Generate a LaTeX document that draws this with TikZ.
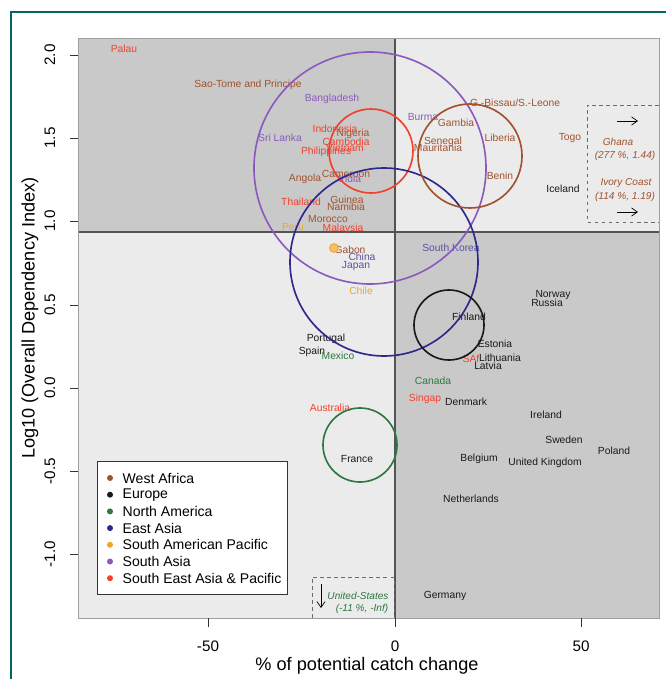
\documentclass[tikz,border=0pt]{standalone}
\usepackage{fontspec}
\setmainfont{Liberation Sans}
\usetikzlibrary{arrows.meta}
\definecolor{wafr}{RGB}{160,82,45}
\definecolor{eur}{RGB}{25,25,25}
\definecolor{namer}{RGB}{45,120,65}
\definecolor{easia}{RGB}{45,40,140}
\definecolor{sapac}{RGB}{240,165,40}
\definecolor{sasia}{RGB}{140,90,190}
\definecolor{seasia}{RGB}{240,65,45}
\definecolor{qdark}{RGB}{201,201,201}
\definecolor{qlight}{RGB}{235,235,235}
\definecolor{frame}{RGB}{0,105,95}

\begin{document}
\begin{tikzpicture}[x=0.03cm, y=-0.03cm, line width=0.40mm,
  cty/.style={font=\fontsize{8.8}{10}\selectfont, inner sep=0pt},
  note/.style={font=\fontsize{8.6}{10}\selectfont\itshape, inner sep=0pt},
  ring/.style={line width=1.4pt},
  ticklab/.style={font=\fontsize{13}{15}\selectfont, inner sep=0pt},
  axtitle/.style={font=\fontsize{15.5}{18}\selectfont, inner sep=0pt},
  arr/.style={line width=0.6pt, -{Straight Barb[length=5pt,width=7pt]}},
  boxline/.style={dashed, line width=0.8pt, gray!85!black}]
  \useasboundingbox (0,0) rectangle (666,679);
  % Outer frame
  \draw[frame, line width=1.3pt] (11,679) -- (11,12) -- (666,12);
  % Quadrants
  \fill[qdark] (78,38) rectangle (395,232);
  \fill[qlight] (395,38) rectangle (659,232);
  \fill[qlight] (78,232) rectangle (395,618);
  \fill[qdark] (395,232) rectangle (659,618);
  \draw[gray!65!black, line width=1pt] (395,38) -- (395,618);
  \draw[gray!65!black, line width=1pt] (78,232) -- (659,232);
  \draw[gray!75, line width=0.8pt] (78,38) rectangle (659,618);
  % Axes ticks and labels
  \foreach \n/\v/\py in {a/2.0/55, b/1.5/138, c/1.0/221, d/0.5/305, e/0.0/388, f/-0.5/471, g/-1.0/554} {
    \draw[gray!40!black, line width=0.8pt] (70,\py) -- (78,\py);
    \node[ticklab, rotate=90] (y\n) at (50,\py) {\v};
  }
  \foreach \n/\v/\px in {a/-50/208, b/0/395, c/50/581} {
    \draw[gray!40!black, line width=0.8pt] (\px,618) -- (\px,627);
    \node[ticklab] (x\n) at (\px,646) {\v};
  }
  \node[axtitle] (xtitle) at (367,666) {\% of potential catch change};
  \node[axtitle, rotate=90] (ytitle) at (30,318) {Log10 (Overall Dependency Index)};
  % West Africa
  \foreach \n/\px/\py/\t in {sao/248/85/Sao-Tome and Principe, nga/353/134/Nigeria,
    ago/305/179/Angola, cmr/346/174/Cameroon, gin/347/200/Guinea, nam/346/207/Namibia,
    mar/328/219/Morocco, gab/350/250/Gabon, gbs/515/103/{G.-Bissau/S.-Leone},
    gmb/456/123/Gambia, sen/443/142/Senegal, mrt/438/148/Mauritania,
    lbr/500/138/Liberia, ben/500/176/Benin, tgo/570/138/Togo}
    \node[cty, text=wafr] (\n) at (\px,\py) {\t};
  % Europe
  \foreach \n/\px/\py/\t in {isl/563/189/Iceland, nor/553/295/Norway, rus/547/303/Russia,
    fin/469/317/Finland, prt/326/339/Portugal, esp/312/352/Spain, est/495/344/Estonia,
    ltu/500/358/Lithuania, lva/488/366/Latvia, dnk/466/402/Denmark, irl/546/415/Ireland,
    swe/564/440/Sweden, pol/614/451/Poland, bel/479/459/Belgium,
    gbr/545/463/United Kingdom, nld/471/499/Netherlands, deu/445/596/Germany,
    fra/357/459/France}
    \node[cty, text=eur] (\n) at (\px,\py) {\t};
  % North America
  \node[cty, text=namer] (mex) at (338,356) {Mexico};
  \node[cty, text=namer] (can) at (433,381) {Canada};
  % East Asia
  \node[cty, text=easia!80] (chn) at (362,257) {China};
  \node[cty, text=easia!80] (jpn) at (356,266) {Japan};
  \node[cty, text=easia!80] (kor) at (451,248) {South Korea};
  % South American Pacific
  \draw[sapac, fill=sapac!70, line width=0.8pt] (334,248) circle (0.13cm);
  \node[cty, text=sapac] (per) at (293,227) {Peru};
  \node[cty, text=sapac] (chl) at (361,291) {Chile};
  % South Asia
  \foreach \n/\px/\py/\t in {bgd/332/99/Bangladesh, lka/280/138/Sri Lanka,
    ind/350/179/India, mmr/423/117/Burma}
    \node[cty, text=sasia] (\n) at (\px,\py) {\t};
  % South East Asia and Pacific
  \foreach \n/\px/\py/\t in {plw/124/49/Palau, idn/335/129/Indonesia, khm/346/142/Cambodia,
    phl/326/152/Philippines, vnm/345/148/Vietnam, tha/301/202/Thailand,
    mys/343/229/Malaysia, sgp/425/399/Singap, aus/330/408/Australia, saf/471/359/SAf}
    \node[cty, text=seasia] (\n) at (\px,\py) {\t};
  % Regional circles
  \draw[ring, sasia] (370,168) circle (3.48cm);
  \draw[ring, seasia] (371,151) circle (1.26cm);
  \draw[ring, easia] (384,262) circle (2.82cm);
  \draw[ring, wafr] (470,156) circle (1.56cm);
  \draw[ring, eur] (449,325) circle (1.05cm);
  \draw[ring, namer] (360,445) circle (1.11cm);
  % Off-scale countries
  \draw[boxline] (659,105) -- (587,105) -- (587,222) -- (659,222);
  \coordinate (ghA) at (617,121);
  \coordinate (ghB) at (638,121);
  \draw[arr] (ghA) -- (ghB);
  \node[note, text=wafr] (gha) at (618,142) {Ghana};
  \node[note, text=wafr] (ghav) at (625,156) {(277 \%, 1.44)};
  \node[note, text=wafr] (civ) at (626,183) {Ivory Coast};
  \node[note, text=wafr] (civv) at (625,197) {(114 \%, 1.19)};
  \coordinate (civA) at (617,212);
  \coordinate (civB) at (638,212);
  \draw[arr] (civA) -- (civB);
  \draw[boxline] (312,618) -- (312,577) -- (394,577) -- (394,618);
  \coordinate (usA) at (321,584);
  \coordinate (usB) at (321,608);
  \draw[arr] (usA) -- (usB);
  \node[note, text=namer] (usa) at (358,596) {United-States};
  \node[note, text=namer] (usav) at (362,609) {(-11 \%, -Inf)};
  % Legend
  \draw[draw=gray!40!black, fill=white, line width=0.8pt] (97,461) rectangle (287,594);
  \foreach \i/\c/\t in {0/wafr/West Africa, 1/eur/Europe, 2/namer/North America,
    3/easia/East Asia, 4/sapac/South American Pacific, 5/sasia/South Asia,
    6/seasia/South East Asia \& Pacific} {
    \fill[\c] (110,478+16.7*\i) circle (0.09cm);
    \node[anchor=west, inner sep=0pt, font=\fontsize{12}{14}\selectfont] (lg\i) at (122,478+16.7*\i) {\t};
  }
\end{tikzpicture}
\end{document}
